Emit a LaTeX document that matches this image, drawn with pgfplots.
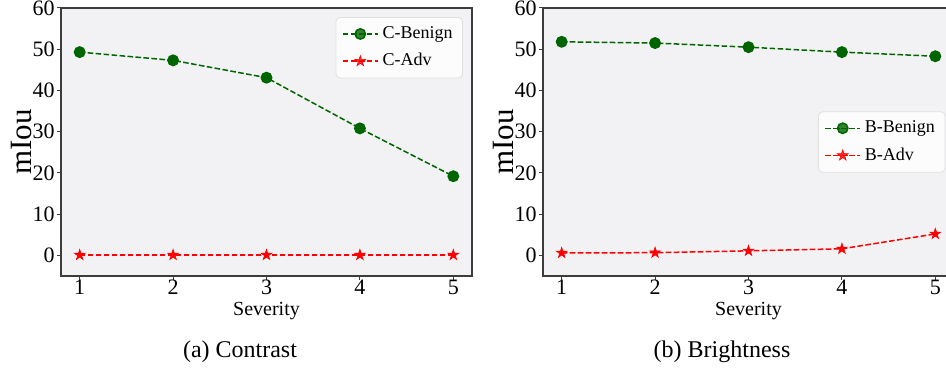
\documentclass[border=0pt]{standalone}
\usepackage{fontspec}
\setmainfont{Liberation Serif}
\usepackage{pgfplots}
\pgfplotsset{compat=1.18}
\definecolor{bg}{RGB}{242,242,245}
\definecolor{dgreen}{RGB}{0,100,0}
\definecolor{spine}{RGB}{60,60,60}
\pgfdeclareplotmark{fstar}{%
  \pgfpathmoveto{\pgfpointpolar{90}{\pgfplotmarksize}}%
  \pgfpathlineto{\pgfpointpolar{126}{0.382\pgfplotmarksize}}%
  \pgfpathlineto{\pgfpointpolar{162}{\pgfplotmarksize}}%
  \pgfpathlineto{\pgfpointpolar{198}{0.382\pgfplotmarksize}}%
  \pgfpathlineto{\pgfpointpolar{234}{\pgfplotmarksize}}%
  \pgfpathlineto{\pgfpointpolar{270}{0.382\pgfplotmarksize}}%
  \pgfpathlineto{\pgfpointpolar{306}{\pgfplotmarksize}}%
  \pgfpathlineto{\pgfpointpolar{342}{0.382\pgfplotmarksize}}%
  \pgfpathlineto{\pgfpointpolar{18}{\pgfplotmarksize}}%
  \pgfpathlineto{\pgfpointpolar{54}{0.382\pgfplotmarksize}}%
  \pgfpathclose
  \pgfusepathqfillstroke
}
\pgfplotsset{
  myax/.style={
    scale only axis, width=205.5pt, height=134pt,
    xmin=0.8, xmax=5.2, ymin=-5, ymax=60,
    xtick={1,2,3,4,5}, ytick={0,10,20,30,40,50,60},
    axis background/.style={fill=bg},
    axis line style={spine, line width=0.6pt},
    tick pos=left, tick align=outside,
    major tick length=2pt,
    tick style={spine, line width=0.5pt},
    /pgf/number format/assume math mode=true,
    ticklabel style={font=\fontsize{11}{12}\selectfont},
    yticklabel style={inner xsep=1pt},
    xticklabel style={inner ysep=1pt, yshift=1pt},
    xlabel={Severity},
    every axis x label/.style={font=\fontsize{10}{12}\selectfont, inner sep=0pt, at={(axis description cs:0.5,-0.13)}, anchor=center},
    ylabel={mIou},
    every axis y label/.style={font=\fontsize{15.5}{18}\selectfont, rotate=90, at={(axis description cs:-0.095,0.5)}, anchor=center},
    legend cell align=left,
    legend style={fill=white, fill opacity=0.8, text opacity=1, draw=black!12,
      rounded corners=2pt, font=\fontsize{9}{10}\selectfont,
      inner xsep=3pt, inner ysep=2.5pt, row sep=2pt},
    legend image code/.code={\draw[mark repeat=2,mark phase=2] plot coordinates {(0pt,0pt) (8.75pt,0pt) (17.5pt,0pt)};},
    benign/.style={dgreen, line width=0.75pt, dash pattern=on 2.8pt off 1.2pt, mark=*, mark size=2.6pt, mark options={solid, fill=dgreen}},
    adv/.style={red, line width=0.75pt, dash pattern=on 2.8pt off 1.2pt, mark=fstar, mark size=2.8pt, mark options={solid, fill=red, line width=0.3pt}},
  }
}
\begin{document}
\begin{tikzpicture}
\useasboundingbox (0,0) rectangle (473pt,184pt);
\begin{axis}[myax, at={(30.5pt,46pt)}, anchor=south west,
  legend style={at={(axis description cs:0.978,0.966)}, anchor=north east}]
\addplot[benign] coordinates {(1,49.3) (2,47.3) (3,43.1) (4,30.8) (5,19.2)};
\addlegendentry{C-Benign}
\addplot[adv] coordinates {(1,0.1) (2,0.1) (3,0.1) (4,0.1) (5,0.1)};
\addlegendentry{C-Adv}
\end{axis}
\begin{axis}[myax, at={(271.5pt,46pt)}, anchor=south west,
  legend style={at={(axis description cs:0.979,0.5)}, anchor=east}]
\addplot[benign] coordinates {(1,51.8) (2,51.5) (3,50.5) (4,49.3) (5,48.3)};
\addlegendentry{B-Benign}
\addplot[adv] coordinates {(1,0.6) (2,0.65) (3,1.1) (4,1.6) (5,5.2)};
\addlegendentry{B-Adv}
\end{axis}
\node[font=\fontsize{12}{14}\selectfont] at (120pt,8pt) {(a) Contrast};
\node[font=\fontsize{12}{14}\selectfont] at (361pt,8pt) {(b) Brightness};
\end{tikzpicture}
\end{document}
